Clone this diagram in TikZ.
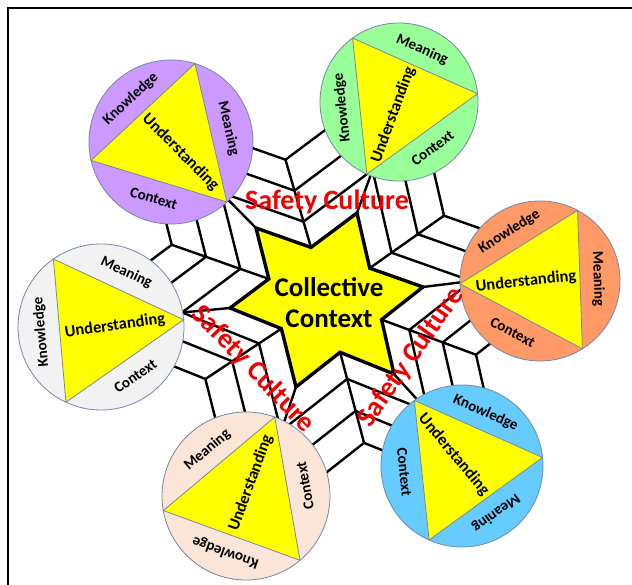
\documentclass[tikz,border=0pt]{standalone}
\usepackage{fontspec}
\setmainfont{Carlito}
\usetikzlibrary{calc}
\definecolor{cPurple}{RGB}{204,153,255}
\definecolor{cGreen}{RGB}{153,255,153}
\definecolor{cOrange}{RGB}{255,153,102}
\definecolor{cBlue}{RGB}{102,204,255}
\definecolor{cPeach}{RGB}{251,229,214}
\definecolor{cGray}{RGB}{242,242,242}
\definecolor{cEdge}{RGB}{115,135,170}
\definecolor{cYellow}{RGB}{255,255,0}
\definecolor{cRed}{RGB}{240,0,0}
\tikzset{
  web/.style={line width=2.4pt, line join=miter},
  starline/.style={line width=3.4pt, line join=miter},
  circ/.style={draw=cEdge, line width=0.8pt},
  lab/.style={font=\fontsize{15}{15}\selectfont\bfseries, inner sep=0pt},
  under/.style={font=\fontsize{16.5}{16.5}\selectfont\bfseries, inner sep=0pt},
  sc/.style={font=\fontsize{28}{28}\selectfont\bfseries, text=cRed, inner sep=0pt},
}
\newcommand{\bubble}[6]{%
  \coordinate (#1) at (#2,#3);
  \draw[circ, fill=#5] (#1) circle[radius=#4];
  \draw[circ, fill=cYellow] ($(#1)+(#6:#4)$) coordinate (#1a) -- ($(#1)+({#6+120}:#4)$) coordinate (#1b) -- ($(#1)+({#6+240}:#4)$) coordinate (#1c) -- cycle;
}
\newcommand{\seglab}[6]{%
  \node[lab, rotate=#5] (#1) at ($(#2)+(#3:#4)$) {#6};
}
\begin{document}
\begin{tikzpicture}[x=1pt,y=1pt]
\useasboundingbox (0,0) rectangle (632,584);
\clip (0,0) rectangle (632,584);
\fill[white] (0,0) rectangle (632,584);
% star tips
\coordinate (C) at (326,285);
\coordinate (T1) at (357,371);
\coordinate (T2) at (256,356);
\coordinate (T3) at (230,276);
\coordinate (T4) at (296,197);
\coordinate (T5) at (394,210);
\coordinate (T6) at (423,297);
\coordinate (I12) at (intersection of T1--T3 and T2--T6);
\coordinate (I23) at (intersection of T1--T3 and T2--T4);
\coordinate (I34) at (intersection of T3--T5 and T2--T4);
\coordinate (I45) at (intersection of T3--T5 and T4--T6);
\coordinate (I56) at (intersection of T5--T1 and T4--T6);
\coordinate (I61) at (intersection of T5--T1 and T2--T6);
% web layers
\foreach \s in {1.5,2.1,2.7}{
  \draw[web] ($(C)!\s!(T1)$) -- ($(C)!\s!(I12)$) -- ($(C)!\s!(T2)$) -- ($(C)!\s!(I23)$) -- ($(C)!\s!(T3)$) -- ($(C)!\s!(I34)$) -- ($(C)!\s!(T4)$) -- ($(C)!\s!(I45)$) -- ($(C)!\s!(T5)$) -- ($(C)!\s!(I56)$) -- ($(C)!\s!(T6)$) -- ($(C)!\s!(I61)$) -- cycle;
}
\foreach \p in {I12,I23,I34,I45,I56,I61}{
  \draw[web] (\p) -- ($(C)!2.7!(\p)$);
}
\foreach \p in {T1,T2,T3,T4,T5,T6}{
  \draw[web] (\p) -- ($(C)!2.2!(\p)$);
}
% yellow star
\draw[starline, fill=cYellow] (T1) -- (I12) -- (T2) -- (I23) -- (T3) -- (I34) -- (T4) -- (I45) -- (T5) -- (I56) -- (T6) -- (I61) -- cycle;
\node[align=center, font=\fontsize{27}{31}\selectfont\bfseries, inner sep=0pt] (cc) at (329,281) {Collective\\Context};
% circles
\bubble{p}{171}{442}{82}{cPurple}{313}
\seglab{pM}{p}{13}{59}{-77}{Meaning}
\seglab{pK}{p}{133}{59}{43}{Knowledge}
\seglab{pC}{p}{253}{59}{-17}{Context}
\node[under, rotate=-45] (pU) at ($(p)+(313:14)$) {Understanding};

\bubble{g}{399}{482}{79}{cGreen}{246}
\seglab{gC}{g}{306}{57}{36}{Context}
\seglab{gM}{g}{66}{57}{-24}{Meaning}
\seglab{gK}{g}{186}{57}{96}{Knowledge}
\node[under, rotate=70] (gU) at ($(g)+(246:14)$) {Understanding};

\bubble{o}{540}{303}{80}{cOrange}{182}
\seglab{oC}{o}{242}{58}{-28}{Context}
\seglab{oM}{o}{2}{58}{-88}{Meaning}
\seglab{oK}{o}{122}{58}{32}{Knowledge}
\node[under, rotate=6] (oU) at ($(o)+(182:14)$) {Understanding};

\bubble{b}{462}{118}{81}{cBlue}{126}
\seglab{bC}{b}{186}{58}{-84}{Context}
\seglab{bM}{b}{306}{58}{216}{Meaning}
\seglab{bK}{b}{66}{58}{-24}{Knowledge}
\node[under, rotate=-50] (bU) at ($(b)+(126:14)$) {Understanding};

\bubble{e}{246}{88}{84}{cPeach}{70}
\seglab{eM}{e}{130}{60}{40}{Meaning}
\seglab{eK}{e}{250}{60}{160}{Knowledge}
\seglab{eC}{e}{10}{60}{100}{Context}
\node[under, rotate=70] (eU) at ($(e)+(70:14)$) {Understanding};

\bubble{w}{101}{257}{83}{cGray}{5}
\seglab{wM}{w}{65}{60}{-25}{Meaning}
\seglab{wK}{w}{185}{60}{95}{Knowledge}
\seglab{wC}{w}{305}{60}{35}{Context}
\node[under, rotate=8] (wU) at ($(w)+(5:14)$) {Understanding};
% safety culture
\node[sc] (sc1) at (327,382) {Safety Culture};
\node[sc, rotate=-46] (sc2) at (253,215) {Safety Culture};
\node[sc, rotate=55] (sc3) at (411,226.5) {Safety Culture};
% frame
\draw[line width=2.5pt] (8,-10) -- (8,576) -- (650,576);
\end{tikzpicture}
\end{document}
